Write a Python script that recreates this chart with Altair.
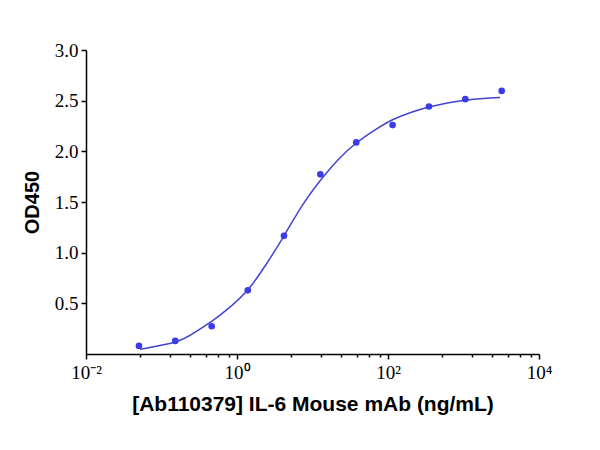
import altair as alt
import pandas as pd

# measured data points (concentration ng/mL, OD450)
conc = [0.0503, 0.152, 0.462, 1.39, 4.19, 12.7, 38.0, 115, 349, 1057, 3206]
od = [0.080, 0.129, 0.274, 0.628, 1.166, 1.773, 2.088, 2.259, 2.442, 2.515, 2.596]

# fitted curve
fit_conc = [0.0519, 0.152, 0.264, 0.462, 0.807, 1.39, 2.40, 4.19, 7.26, 12.7,
            22.0, 38.0, 66.7, 115, 200, 349, 610, 1057, 1828, 3041]
fit_od = [0.047, 0.119, 0.205, 0.322, 0.462, 0.633, 0.878, 1.166, 1.462, 1.712,
          1.920, 2.082, 2.210, 2.312, 2.384, 2.438, 2.478, 2.505, 2.521, 2.531]

major_ticks = [0.01, 1, 100, 10000]
minor_ticks = [0.0522, 0.130, 0.238, 0.391, 0.565, 0.78,
               5.22, 13.0, 23.8, 39.1, 56.5, 78.0,
               522, 1300, 2380, 3910, 5650, 7800]
y_ticks = [0.5, 1.0, 1.5, 2.0, 2.5, 3.0]

df_pts = pd.DataFrame({"conc": conc, "od": od})
df_fit = pd.DataFrame({"conc": fit_conc, "od": fit_od})

major_test = "datum.value == 0.01 || datum.value == 1 || datum.value == 100 || datum.value == 10000"
label_expr = ("datum.value == 0.01 ? '10⁻²' : datum.value == 1 ? '10⁰' : "
              "datum.value == 100 ? '10²' : datum.value == 10000 ? '10⁴' : ''")

x = alt.X(
    "conc:Q",
    scale=alt.Scale(type="log", domain=[0.01, 10000]),
    axis=alt.Axis(
        values=major_ticks + minor_ticks,
        labelExpr=label_expr,
        labelOverlap=False,
        labelFlush=False,
        tickSize={"condition": {"test": major_test, "value": 5}, "value": 3},
        labelPadding=4,
        titlePadding=11,
        titleFontSize=21,
        title="[Ab110379] IL-6 Mouse mAb (ng/mL)",
    ),
)
y = alt.Y(
    "od:Q",
    scale=alt.Scale(domain=[0, 3]),
    axis=alt.Axis(
        values=y_ticks,
        format=".1f",
        tickSize=5,
        labelPadding=3,
        titlePadding=12,
        titleFontSize=20,
        title="OD450",
    ),
)

line = alt.Chart(df_fit).mark_line(
    color="#4343d2", strokeWidth=1.5, interpolate="natural"
).encode(x=x, y=y)

pts = alt.Chart(df_pts).mark_circle(
    color="#3b3bea", size=44, opacity=1
).encode(x=x, y=y)

chart = alt.layer(line, pts).properties(
    width=453,
    height=304,
    autosize="none",
    padding={"left": 86, "top": 50, "right": 61, "bottom": 96},
    background="white",
).configure_view(stroke=None).configure_axis(
    grid=False,
    domainColor="black",
    domainWidth=1.5,
    tickColor="black",
    tickWidth=1.5,
    labelFont="Liberation Serif",
    labelFontSize=19,
    labelColor="black",
    titleFont="Liberation Sans",
    titleFontWeight="bold",
    titleColor="black",
)

chart.save("out.html", embed_options={"renderer": "svg", "actions": False})
